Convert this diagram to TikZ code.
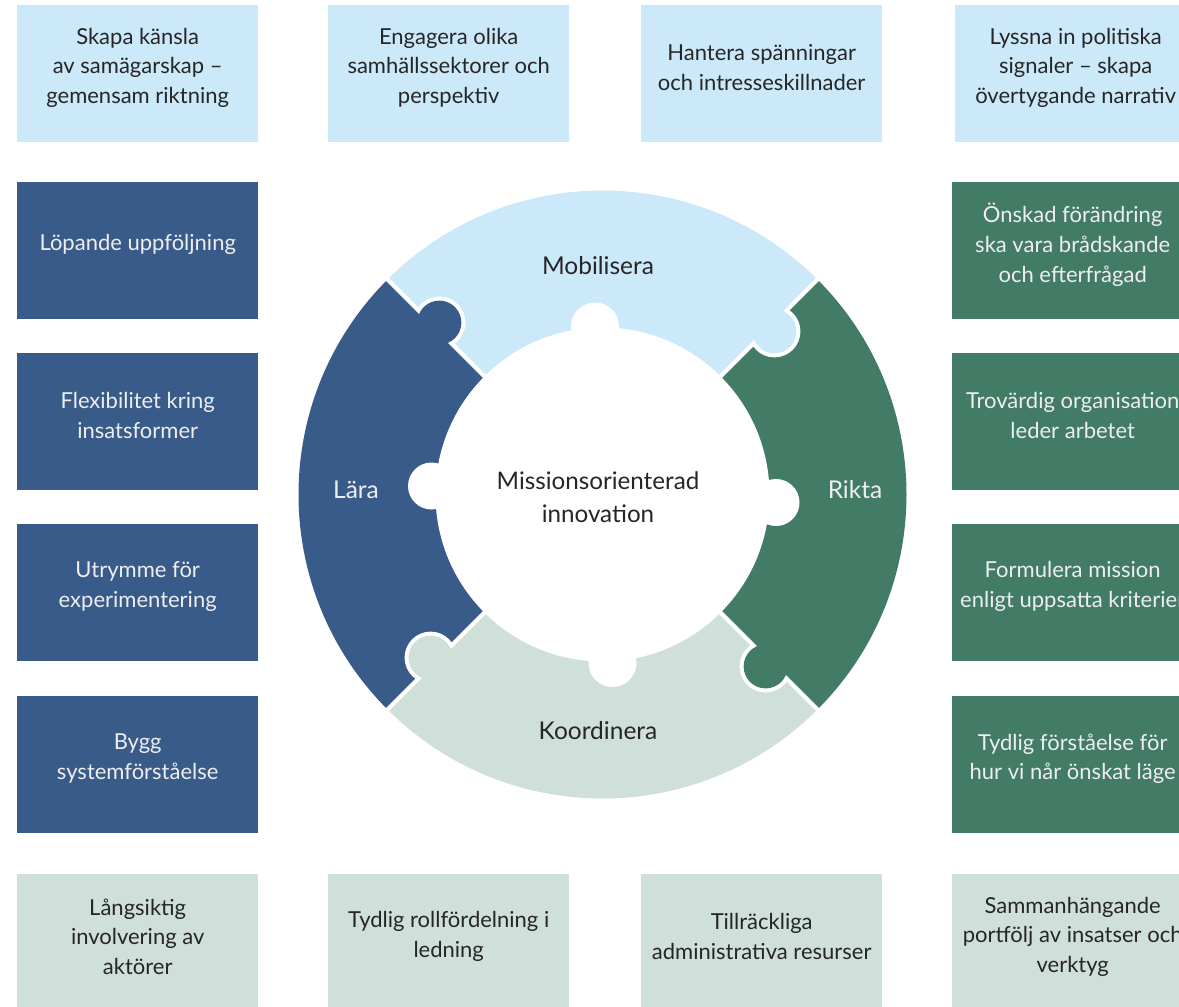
\documentclass[tikz,border=0pt]{standalone}
\usepackage{fontspec}
\setmainfont{Lato}
\definecolor{lblue}{HTML}{CCE9FA}
\definecolor{dblue}{HTML}{395B8A}
\definecolor{dgreen}{HTML}{427B66}
\definecolor{lgreen}{HTML}{CFDFDA}
\definecolor{dtext}{HTML}{262626}
\definecolor{wtext}{HTML}{EEEEEE}
\newcommand\puzzleknob[3]{%
  \begin{scope}
    \clip (0,0) -- (#1:420) -- (#1-60:420) -- cycle;
    \draw[white,line width=8pt] (#3:237) circle[radius=22];
  \end{scope}
  \fill[#2] (#3:237) circle[radius=22];}
\begin{document}
\begin{tikzpicture}[x=1pt,y=-1pt,
  box/.style={rectangle, minimum width=241pt, minimum height=137pt, inner sep=0pt, anchor=north west},
  txt/.style={align=center, font=\fontsize{22}{29.7}\selectfont, inner sep=0pt},
  ringlbl/.style={font=\fontsize{24.5}{30}\selectfont, inner sep=0pt},
  midlbl/.style={align=center, font=\fontsize{24.2}{33}\selectfont, inner sep=0pt}]
\useasboundingbox (0,0) rectangle (1179,1007);
\clip (0,0) rectangle (1179,1007);
% top row
\node[box, fill=lblue] (b1) at (17,5) {};
\node[box, fill=lblue] (b2) at (328,5) {};
\node[box, fill=lblue] (b3) at (641,5) {};
\node[box, fill=lblue] (b4) at (955,5) {};
\node[txt, dtext] (t1) at ([yshift=6pt]b1.center) {Skapa känsla\\av samägarskap –\\gemensam riktning};
\node[txt, dtext] (t2) at ([yshift=6pt]b2.center) {Engagera olika\\samhällssektorer och\\perspektiv};
\node[txt, dtext] (t3) at ([yshift=6pt]b3.center) {Hantera spänningar\\och intresseskillnader};
\node[txt, dtext] (t4) at ([yshift=6pt]b4.center) {Lyssna in politiska\\signaler – skapa\\övertygande narrativ};
% left column
\node[box, fill=dblue] (l1) at (17,182) {};
\node[box, fill=dblue] (l2) at (17,353) {};
\node[box, fill=dblue] (l3) at (17,524) {};
\node[box, fill=dblue] (l4) at (17,696) {};
\node[txt, wtext] (lt1) at ([yshift=6pt]l1.center) {Löpande uppföljning};
\node[txt, wtext] (lt2) at ([yshift=6pt]l2.center) {Flexibilitet kring\\insatsformer};
\node[txt, wtext] (lt3) at ([yshift=6pt]l3.center) {Utrymme för\\experimentering};
\node[txt, wtext] (lt4) at ([yshift=6pt]l4.center) {Bygg\\systemförståelse};
% right column
\node[box, fill=dgreen] (r1) at (952,182) {};
\node[box, fill=dgreen] (r2) at (952,353) {};
\node[box, fill=dgreen] (r3) at (952,524) {};
\node[box, fill=dgreen] (r4) at (952,696) {};
\node[txt, wtext] (rt1) at ([yshift=6pt]r1.center) {Önskad förändring\\ska vara brådskande\\och efterfrågad};
\node[txt, wtext] (rt2) at ([yshift=6pt]r2.center) {Trovärdig organisation\\leder arbetet};
\node[txt, wtext] (rt3) at ([yshift=6pt]r3.center) {Formulera mission\\enligt uppsatta kriterier};
\node[txt, wtext] (rt4) at ([yshift=6pt]r4.center) {Tydlig förståelse för\\hur vi når önskat läge};
% bottom row
\node[box, fill=lgreen] (d1) at (17,874) {};
\node[box, fill=lgreen] (d2) at (328,874) {};
\node[box, fill=lgreen] (d3) at (641,874) {};
\node[box, fill=lgreen] (d4) at (952,874) {};
\node[txt, dtext] (dt1) at ([yshift=6pt]d1.center) {Långsiktig\\involvering av\\aktörer};
\node[txt, dtext] (dt2) at ([yshift=6pt]d2.center) {Tydlig rollfördelning i\\ledning};
\node[txt, dtext] (dt3) at ([yshift=6pt]d3.center) {Tillräckliga\\administrativa resurser};
\node[txt, dtext] (dt4) at ([yshift=6pt]d4.center) {Sammanhängande\\portfölj av insatser och\\verktyg};
% ring
\begin{scope}[shift={(602.5,494.5)}, y=1pt]
  \fill[lblue] (45:304) arc[start angle=45,end angle=135,radius=304] -- (135:150) arc[start angle=135,end angle=45,radius=150] -- cycle;
  \fill[dblue] (135:304) arc[start angle=135,end angle=225,radius=304] -- (225:150) arc[start angle=225,end angle=135,radius=150] -- cycle;
  \fill[lgreen] (225:304) arc[start angle=225,end angle=315,radius=304] -- (315:150) arc[start angle=315,end angle=225,radius=150] -- cycle;
  \fill[dgreen] (-45:304) arc[start angle=-45,end angle=45,radius=304] -- (45:150) arc[start angle=45,end angle=-45,radius=150] -- cycle;
  \foreach \a in {45,135,225,315} \draw[white, line width=4pt] (\a:140) -- (\a:320);
  \puzzleknob{135}{dblue}{133.5}
  \puzzleknob{45}{lblue}{43.5}
  \puzzleknob{-45}{dgreen}{-46.5}
  \puzzleknob{225}{lgreen}{223.5}
  \fill[white] (0,0) circle[radius=167];
  \fill[white] (-7.5,168) circle[radius=24];
  \fill[white] (-171,8.5) circle[radius=23.5];
  \fill[white] (173.5,-8) circle[radius=23.5];
  \fill[white] (10,-168.5) circle[radius=24];
  \node[ringlbl, dtext] (mob) at (-4.5,228.5) {Mobilisera};
  \node[ringlbl, wtext] (lar) at (-246.5,4.5) {Lära};
  \node[ringlbl, wtext] (rik) at (252.5,4.5) {Rikta};
  \node[ringlbl, dtext] (koo) at (-4.5,-236.5) {Koordinera};
  \node[midlbl, dtext] (mid) at (-4.5,-2.5) {Missionsorienterad\\innovation};
\end{scope}
\end{tikzpicture}
\end{document}
